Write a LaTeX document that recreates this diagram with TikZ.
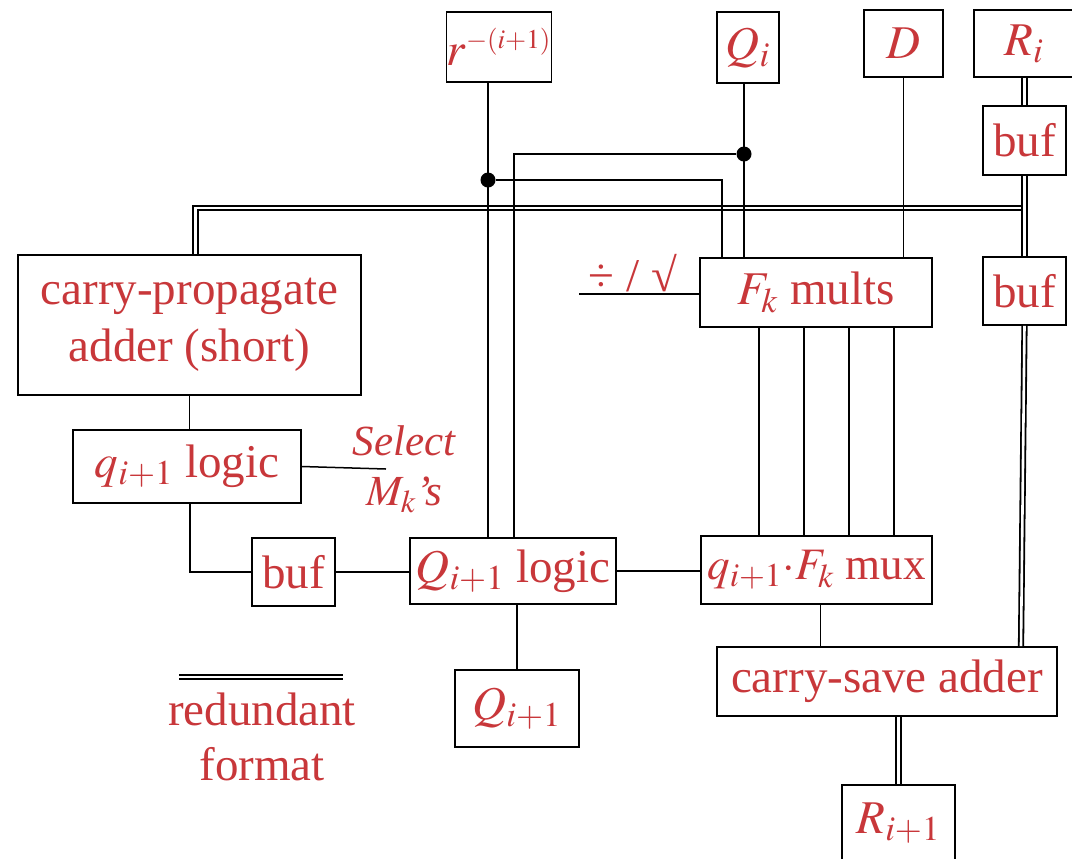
\documentclass[tikz,border=0pt]{standalone}
\usepackage{mathptmx}
\usepackage{fontspec}
\setmainfont{Liberation Serif}
\usetikzlibrary{positioning,calc}
\definecolor{txtred}{HTML}{C8373A}

\begin{document}
\begin{tikzpicture}[x=0.5pt, y=-0.5pt,
  blk/.style={draw, line width=0.8pt, inner sep=0pt, text=txtred,
    font=\fontsize{23.5}{28.5}\selectfont, align=center},
  lbl/.style={text=txtred, font=\fontsize{23.5}{27.5}\selectfont, align=center},
  wire/.style={line width=0.75pt},
  dbl/.style={double, line width=0.9pt, double distance=1.3pt},
  dot/.style={circle, fill, inner sep=0pt, minimum size=7.5pt}
]
  \useasboundingbox (0,0) rectangle (1072,858);

  % Inputs along the top
  \node[blk, minimum width=52pt, minimum height=35pt] (rinv) at (499,47)
    {$r^{\scalebox{0.78}{$\scriptstyle-(i+1)$}}$};
  \node[blk, minimum width=31pt, minimum height=35.5pt] (Qi) at (748,47.5) {$Q_i$};
  \node[blk, minimum width=39.5pt, minimum height=33.5pt] (D) at (903.5,43.5) {$D$};
  \node[blk, minimum width=50pt, minimum height=33.5pt] (Ri) at (1024,43.5) {$R_i$};

  % Buffers on the remainder path
  \node[blk, minimum width=41.5pt, minimum height=34.5pt] (buf1) at (1024.5,140.5) {buf};
  \node[blk, minimum width=41.5pt, minimum height=34pt] (buf2) at (1024.5,291) {buf};

  % Main blocks
  \node[blk, minimum width=171.5pt, minimum height=70pt] (cpa) at (189.5,325) {carry-propagate\\adder (short)};
  \node[blk, minimum width=116pt, minimum height=34.5pt] (fmul) at (816,292.5) {$F_k$ mults};
  \node[blk, minimum width=114pt, minimum height=36.5pt] (qlog) at (187,466.5) {$q_{i+1}$ logic};
  \node[blk, minimum width=41.5pt, minimum height=34pt] (buf3) at (293.5,572) {buf};
  \node[blk, minimum width=103pt, minimum height=33pt] (Qlog) at (513,571) {$Q_{i+1}$ logic};
  \node[blk, minimum width=115.5pt, minimum height=34pt, font=\fontsize{22.5}{27}\selectfont] (mux) at (816.5,570)
    {$q_{i+1}{\cdot}F_k$ mux};
  \node[blk, minimum width=170pt, minimum height=34.5pt] (csa) at (887,681.5) {carry-save adder};
  \node[blk, minimum width=62pt, minimum height=38.5pt] (Qnext) at (517,708.5) {$Q_{i+1}$};
  \node[blk, minimum width=56.5pt, minimum height=38.5pt] (Rnext) at (898.5,823.5) {$R_{i+1}$};

  % Labels
  \node[lbl] (divsym) at (633,273) {÷ / √};
  \node[lbl, font=\fontsize{21.5}{25}\selectfont\itshape] (sel) at (404,469) {Select\\$M_k$’s};
  \node[lbl] (legend) at (262,737) {redundant\\format};

  % Junctions and free ends
  \coordinate (junc) at (1024.5,208);
  \coordinate (selend) at (386,469);
  \coordinate (divin) at (579,294);
  \coordinate (leg1) at (179,677);
  \coordinate (leg2) at (343,677);
  \node[dot] (rdot) at (488,180) {};
  \node[dot] (qdot) at (744,154) {};

  % Redundant (double) lines
  \draw[dbl] ([xshift=3pt]cpa.north) |- (junc);
  \draw[dbl] (Ri.south -| buf1.north) -- (buf1.north);
  \draw[dbl] (buf1.south) -- (buf2.north);
  \draw[dbl] (buf2.south) -- ([xshift=-1.75pt]buf2.south |- csa.north);
  \draw[dbl] (csa.south -| Rnext.north) -- (Rnext.north);
  \draw[dbl] (leg1) -- (leg2);

  % Single wires
  \draw[wire] (rinv.south -| rdot) -- (Qlog.north -| rdot);
  \draw[wire] (rdot) -| ([xshift=-47pt]fmul.north);
  \draw[wire] (Qi.south -| qdot) -- (fmul.north -| qdot);
  \draw[wire] (qdot) -| ([xshift=0.5pt]Qlog.north);
  \draw[wire] (D.south) -- (fmul.north -| D.south);
  \draw[wire] (divin) -- (fmul.west |- divin);
  \foreach \dx in {-28.5,-6,16.5,39}
    \draw[wire] ([xshift=\dx pt]fmul.south) -- ([xshift=\dx pt]fmul.south |- mux.north);
  \draw[wire] ([xshift=2pt]mux.south) -- ([xshift=2pt]mux.south |- csa.north);
  \draw[wire] (cpa.south) -- (cpa.south |- qlog.north);
  \draw[wire] ([xshift=1.5pt]qlog.south) |- (buf3.west);
  \draw[wire] (qlog.east) -- (selend);
  \draw[wire] (buf3.east) -- (buf3.east -| Qlog.west);
  \draw[wire] (Qlog.east) -- (Qlog.east -| mux.west);
  \draw[wire] (Qnext.north) -- (Qnext.north |- Qlog.south);
\end{tikzpicture}
\end{document}
